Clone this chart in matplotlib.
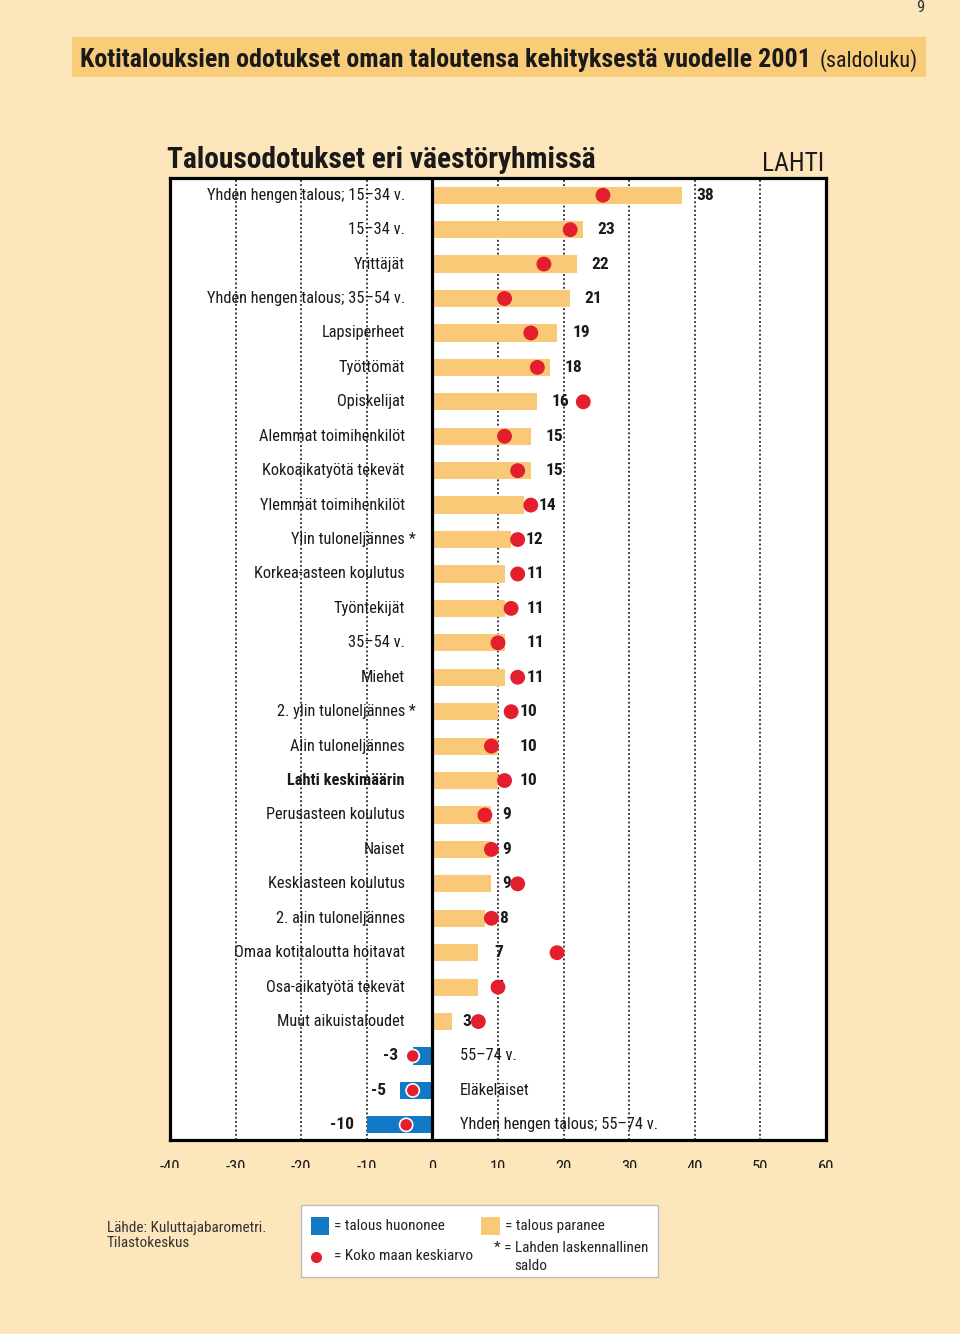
import matplotlib
matplotlib.use("Agg")
import matplotlib.pyplot as plt
from matplotlib import font_manager
from matplotlib.patches import Rectangle

# ---------------- data ----------------
categories = [
    "Yhden hengen talous; 15–34 v.", "15–34 v.", "Yrittäjät",
    "Yhden hengen talous; 35–54 v.", "Lapsiperheet", "Työttömät", "Opiskelijat",
    "Alemmat toimihenkilöt", "Kokoaikatyötä tekevät", "Ylemmät toimihenkilöt",
    "Ylin tuloneljännes *", "Korkea-asteen koulutus", "Työntekijät", "35–54 v.",
    "Miehet", "2. ylin tuloneljännes *", "Alin tuloneljännes", "Lahti keskimäärin",
    "Perusasteen koulutus", "Naiset", "Keskiasteen koulutus", "2. alin tuloneljännes",
    "Omaa kotitaloutta hoitavat", "Osa-aikatyötä tekevät", "Muut aikuistaloudet",
    "55–74 v.", "Eläkeläiset", "Yhden hengen talous; 55–74 v.",
]
lahti_saldo = [38, 23, 22, 21, 19, 18, 16, 15, 15, 14, 12, 11, 11, 11, 11, 10, 10, 10,
               9, 9, 9, 8, 7, 7, 3, -3, -5, -10]
national_avg = [26, 21, 17, 11, 15, 16, 23, 11, 13, 15, 13, 13, 12, 10, 13, 12, 9, 11,
                8, 9, 13, 9, 19, 10, 7, -3, -3, -4]
x_ticks = [-40, -30, -20, -10, 0, 10, 20, 30, 40, 50, 60]
grid_x = [-30, -20, -10, 10, 20, 30, 40, 50]
bold_category = "Lahti keskimäärin"

# layout: distance of each value label from its bar end (axis units)
label_dx = [2.2, 2.1, 2.2, 2.2, 2.3, 2.1, 2.2, 2.2, 2.2, 2.2, 2.2, 3.4, 3.4, 3.4, 3.4,
            3.35, 3.35, 3.35, 1.7, 1.7, 1.7, 2.2, 2.4, 2.4, 1.5, 2.2, 2.1, 2.0]

# ---------------- style ----------------
names = {f.name for f in font_manager.fontManager.ttflist}
COND = next((n for n in ["Liberation Sans Narrow", "DejaVu Sans Condensed", "Roboto Condensed"]
             if n in names), "DejaVu Sans")
plt.rcParams["font.family"] = [COND, "DejaVu Sans"]

CREAM = "#FDE6BB"
ORANGE = "#F9C977"
TITLEBAR = "#F9CC7A"
BLUE = "#1279C6"
RED = "#E31E2D"
TXT = "#1a1a1a"
CAT_FS = 11.8
VAL_FS = 12.5

W, H = 960, 1334
fig = plt.figure(figsize=(W / 100, H / 100), dpi=100, facecolor=CREAM)


def fx(x):
    return x / W


def fy(y):
    return 1 - y / H


# axes
L, R, T, B = 170, 826, 178, 1140
ax = fig.add_axes([fx(L), fy(B), (R - L) / W, (B - T) / H])
ax.set_facecolor("white")
ax.set_xlim(-40, 60)
n = len(categories)
ax.set_ylim(n - 1 + 0.44, -0.5)
ys = list(range(n))

for s in ax.spines.values():
    s.set_linewidth(2.3)
    s.set_color("black")
ax.set_yticks([])
ax.set_xticks(x_ticks)
ax.set_xticklabels([str(t) for t in x_ticks], fontsize=12, color=TXT)
ax.tick_params(axis="x", length=0, pad=14.5)

# gridlines
for g in grid_x:
    ax.axvline(g, color="black", lw=1.1, ls=(0, (1.2, 1.6)), zorder=1)
ax.axvline(0, color="black", lw=2.3, zorder=6)

# bars
bar_colors = [ORANGE if v >= 0 else BLUE for v in lahti_saldo]
ax.barh(ys, lahti_saldo, height=0.5, color=bar_colors, zorder=2)

# value labels and category labels
for y, cat, v, dx in zip(ys, categories, lahti_saldo, label_dx):
    if v >= 0:
        ax.text(v + dx, y, str(v), ha="left", va="center", fontsize=VAL_FS,
                fontweight="bold", color=TXT, zorder=3)
        weight = "bold" if cat == bold_category else "normal"
        if cat.endswith(" *"):
            ax.text(-4.2, y, cat[:-2], ha="right", va="center", fontsize=CAT_FS,
                    fontweight=weight, color=TXT, zorder=3)
            ax.text(-4.2, y, " *", ha="left", va="center", fontsize=CAT_FS,
                    color=TXT, zorder=3)
        else:
            ax.text(-4.2, y, cat, ha="right", va="center", fontsize=CAT_FS,
                    fontweight=weight, color=TXT, zorder=3)
    else:
        ax.text(v - dx, y, str(v), ha="right", va="center", fontsize=VAL_FS,
                fontweight="bold", color=TXT, zorder=3)
        ax.text(4.2, y, cat, ha="left", va="center", fontsize=CAT_FS,
                color=TXT, zorder=3)

# national average dots
edge = ["white" if v < 0 else RED for v in lahti_saldo]
ax.scatter(national_avg, ys, s=90, c=RED, edgecolors=edge, linewidths=1.2, zorder=5)

# cover lower half of tick labels (clipped in original)
fig.patches.append(Rectangle((0, 0), 1, fy(1168), transform=fig.transFigure,
                             facecolor=CREAM, edgecolor="none", zorder=10))

# ---------------- header ----------------
fig.patches.append(Rectangle((fx(72), fy(77)), (926 - 72) / W, 40 / H,
                             transform=fig.transFigure, facecolor=TITLEBAR,
                             edgecolor="none", zorder=1))
fig.canvas.draw()
renderer = fig.canvas.get_renderer()


def fit(t, width_px):
    bb = t.get_window_extent(renderer)
    t.set_fontsize(t.get_fontsize() * width_px / bb.width)


t1 = fig.text(fx(80), fy(67), "Kotitalouksien odotukset oman taloutensa kehityksestä vuodelle 2001",
              fontsize=20, fontweight="bold", color=TXT, va="baseline", ha="left", zorder=11)
fit(t1, 812 - 80)
t2 = fig.text(fx(820), fy(67), "(saldoluku)", fontsize=16, color=TXT,
              va="baseline", ha="left", zorder=11)
fit(t2, 918 - 820)

t3 = fig.text(fx(167), fy(168), "Talousodotukset eri väestöryhmissä", fontsize=22,
              fontweight="bold", color=TXT, va="baseline", ha="left", zorder=11)
fit(t3, 596 - 167)
t4 = fig.text(fx(824), fy(171), "LAHTI", fontsize=20, color=TXT,
              va="baseline", ha="right", zorder=11)
fit(t4, 824 - 762)

fig.text(fx(924), fy(8), "9", fontsize=12, color="#333333", ha="right", va="center", zorder=11)

# ---------------- footer ----------------
fig.text(fx(107), fy(1221), "Lähde: Kuluttajabarometri.\nTilastokeskus", fontsize=11,
         color="#333333", ha="left", va="top", linespacing=1.1, zorder=11)

fig.patches.append(Rectangle((fx(301), fy(1277)), (658 - 301) / W, (1277 - 1205) / H,
                             transform=fig.transFigure, facecolor="white",
                             edgecolor="#BDBDBD", lw=1, zorder=11))
fig.patches.append(Rectangle((fx(311), fy(1235)), 18 / W, 18 / H,
                             transform=fig.transFigure, facecolor=BLUE,
                             edgecolor="none", zorder=12))
fig.patches.append(Rectangle((fx(481), fy(1235)), 19 / W, 18 / H,
                             transform=fig.transFigure, facecolor=ORANGE,
                             edgecolor="none", zorder=12))
fig.lines.append(plt.Line2D([fx(316)], [fy(1257)], marker="o", ms=7, color=RED,
                            transform=fig.transFigure, zorder=12))
lg = dict(fontsize=11, color="#222222", va="center", ha="left", zorder=13)
fig.text(fx(334), fy(1226), "= talous huononee", **lg)
fig.text(fx(505), fy(1226), "= talous paranee", **lg)
fig.text(fx(334), fy(1256), "= Koko maan keskiarvo", **lg)
fig.text(fx(494), fy(1248), "* = Lahden laskennallinen", **lg)
fig.text(fx(514), fy(1266), "saldo", **lg)

fig.savefig("out.png", dpi=100, facecolor=CREAM)
